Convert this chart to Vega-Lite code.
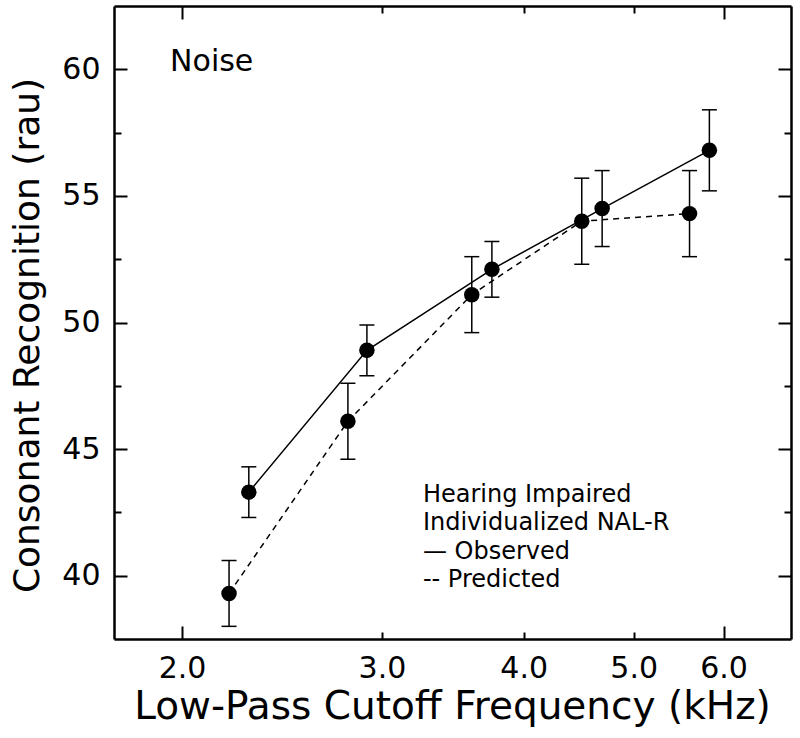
{
  "$schema": "https://vega.github.io/schema/vega-lite/v6.json",
  "width": 677,
  "height": 633,
  "autosize": {"type": "none"},
  "padding": {"left": 114, "top": 6, "right": 9, "bottom": 99},
  "background": "white",
  "config": {
    "view": {"stroke": null},
    "font": "DejaVu Sans",
    "axis": {
      "domainColor": "black",
      "domainWidth": 2.5,
      "tickColor": "black",
      "tickWidth": 2,
      "grid": false,
      "labelColor": "black",
      "titleColor": "black",
      "labelFont": "DejaVu Sans",
      "titleFont": "DejaVu Sans",
      "labelFontWeight": "normal",
      "titleFontWeight": "normal"
    }
  },
  "data": {
    "values": [
      {"series": "Observed", "freq": 2.29, "rau": 43.3, "lo": 42.3, "hi": 44.3},
      {"series": "Observed", "freq": 2.91, "rau": 48.9, "lo": 47.9, "hi": 49.9},
      {"series": "Observed", "freq": 3.75, "rau": 52.1, "lo": 51.0, "hi": 53.2},
      {"series": "Observed", "freq": 4.69, "rau": 54.5, "lo": 53.0, "hi": 56.0},
      {"series": "Observed", "freq": 5.83, "rau": 56.8, "lo": 55.2, "hi": 58.4},
      {"series": "Predicted", "freq": 2.20, "rau": 39.3, "lo": 38.0, "hi": 40.6},
      {"series": "Predicted", "freq": 2.80, "rau": 46.1, "lo": 44.6, "hi": 47.6},
      {"series": "Predicted", "freq": 3.60, "rau": 51.1, "lo": 49.6, "hi": 52.6},
      {"series": "Predicted", "freq": 4.50, "rau": 54.0, "lo": 52.3, "hi": 55.7},
      {"series": "Predicted", "freq": 5.60, "rau": 54.3, "lo": 52.6, "hi": 56.0}
    ]
  },
  "layer": [
    {
      "mark": {"type": "rule", "color": "black", "strokeWidth": 1.5},
      "encoding": {
        "x": {"field": "freq", "type": "quantitative", "scale": {"type": "log", "domain": [1.742, 6.88], "nice": false}, "axis": null},
        "y": {"field": "lo", "type": "quantitative", "scale": {"domain": [37.5, 62.5], "nice": false, "zero": false}, "axis": null},
        "y2": {"field": "hi"}
      }
    },
    {
      "mark": {"type": "tick", "orient": "horizontal", "size": 15, "thickness": 1.5, "color": "black", "opacity": 1},
      "encoding": {
        "x": {"field": "freq", "type": "quantitative", "axis": null},
        "y": {"field": "lo", "type": "quantitative", "axis": null}
      }
    },
    {
      "mark": {"type": "tick", "orient": "horizontal", "size": 15, "thickness": 1.5, "color": "black", "opacity": 1},
      "encoding": {
        "x": {"field": "freq", "type": "quantitative", "axis": null},
        "y": {"field": "hi", "type": "quantitative", "axis": null}
      }
    },
    {
      "transform": [{"filter": "datum.series == 'Observed'"}],
      "mark": {"type": "line", "color": "black", "strokeWidth": 1.5},
      "encoding": {
        "x": {
          "field": "freq", "type": "quantitative",
          "axis": {
            "orient": "bottom",
            "values": [2, 3, 4, 5, 6],
            "format": ".1f",
            "tickSize": {"condition": {"test": "datum.value == 2 || datum.value == 6", "value": -13}, "value": -7},
            "labelFontSize": 30,
            "labelBaseline": "alphabetic",
            "labelPadding": {"condition": {"test": "datum.value == 2 || datum.value == 6", "value": 51}, "value": 45},
            "title": "Low-Pass Cutoff Frequency (kHz)",
            "titleFontSize": 39,
            "titleBaseline": "alphabetic",
            "titleX": 338,
            "titleY": 79,
            "titleAlign": "center"
          }
        },
        "y": {
          "field": "rau", "type": "quantitative",
          "axis": {
            "orient": "left",
            "values": [40, 42.5, 45, 47.5, 50, 52.5, 55, 57.5, 60],
            "labelExpr": "datum.value % 5 == 0 ? format(datum.value, 'd') : ''",
            "tickSize": {"condition": {"test": "datum.value % 5 == 0", "value": -13}, "value": -7},
            "labelFontSize": 30,
            "labelPadding": {"condition": {"test": "datum.value % 5 == 0", "value": 27}, "value": 21},
            "labelBaseline": "middle",
            "title": "Consonant Recognition (rau)",
            "titleFontSize": 36,
            "titleBaseline": "alphabetic",
            "titleAngle": 270,
            "titleX": -76,
            "titleY": 329,
            "titleAlign": "center"
          }
        }
      }
    },
    {
      "transform": [{"filter": "datum.series == 'Predicted'"}],
      "mark": {"type": "line", "color": "black", "strokeWidth": 1.5, "strokeDash": [6, 5]},
      "encoding": {
        "x": {
          "field": "freq", "type": "quantitative",
          "axis": {
            "orient": "top",
            "values": [2, 3, 4, 5, 6],
            "labels": false,
            "title": null,
            "tickSize": {"condition": {"test": "datum.value == 2 || datum.value == 6", "value": -13}, "value": -7}
          }
        },
        "y": {
          "field": "rau", "type": "quantitative",
          "axis": {
            "orient": "right",
            "values": [40, 42.5, 45, 47.5, 50, 52.5, 55, 57.5, 60],
            "labels": false,
            "title": null,
            "tickSize": {"condition": {"test": "datum.value % 5 == 0", "value": -13}, "value": -7}
          }
        }
      }
    },
    {
      "mark": {"type": "point", "filled": true, "size": 240, "color": "black", "opacity": 1},
      "encoding": {
        "x": {"field": "freq", "type": "quantitative", "axis": null},
        "y": {"field": "rau", "type": "quantitative", "axis": null}
      }
    },
    {
      "data": {"values": [{}]},
      "mark": {"type": "text", "text": "Noise", "font": "DejaVu Sans", "fontSize": 30, "align": "left", "baseline": "alphabetic", "color": "black"},
      "encoding": {
        "x": {"datum": 1.952, "type": "quantitative", "axis": null},
        "y": {"datum": 59.92, "type": "quantitative", "axis": null}
      }
    },
    {
      "data": {"values": [{}]},
      "mark": {"type": "text", "text": ["Hearing Impaired", "Individualized NAL-R", "— Observed", "-- Predicted"], "lineHeight": 28.5, "font": "DejaVu Sans", "fontSize": 24, "align": "left", "baseline": "alphabetic", "color": "black"},
      "encoding": {
        "x": {"datum": 3.26, "type": "quantitative", "axis": null},
        "y": {"datum": 42.92, "type": "quantitative", "axis": null}
      }
    }
  ],
  "resolve": {"axis": {"x": "independent", "y": "independent"}}
}
